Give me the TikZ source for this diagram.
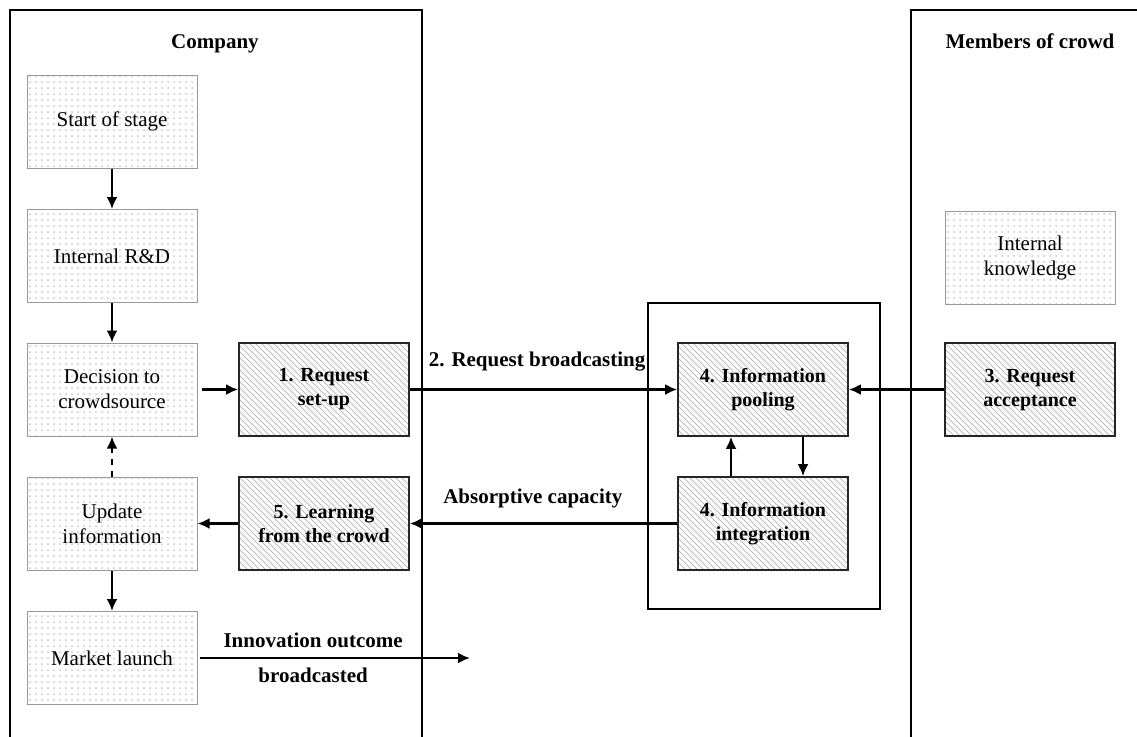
\documentclass[tikz,border=0pt]{standalone}
\usepackage{fontspec}
\setmainfont{Liberation Serif}
\usetikzlibrary{arrows.meta,patterns}

\tikzset{
  stagebox/.style={draw=gray!80, line width=0.5pt, pattern=dots, pattern color=gray!45,
    minimum width=85pt, minimum height=46.5pt, align=center, inner sep=2pt},
  crowdbox/.style={draw=black!85, line width=0.8pt, pattern=north west lines, pattern color=gray!50,
    minimum width=85pt, minimum height=46.5pt, align=center, font=\bfseries, inner sep=2pt},
  flow/.style={->, line width=1.25pt},
  frame/.style={line width=0.6pt},
  flowlabel/.style={font=\fontsize{10.5}{12.5}\selectfont\bfseries},
}

\begin{document}
\begin{tikzpicture}[x=0.5pt,y=-0.5pt,>={Latex[length=6pt,width=5.5pt]},
  every node/.append style={font=\fontsize{10.5}{12.5}\selectfont}]

    % Page extent
    \clip (0,0) rectangle (1137,736);

    % Frames of the two actors
    \draw[frame] (10,745) |- (422,10) -- (422,745);
    \draw[frame] (911,745) |- (1150,10);
    \node[flowlabel,anchor=base] (company) at (215,48) {Company};
    \node[flowlabel,anchor=base] (members) at (1030,48) {Members of crowd};

    % Company stages
    \node[stagebox] (start)  at (112,121.5) {Start of stage};
    \node[stagebox] (rnd)    at (112,256)   {Internal R\&D};
    \node[stagebox] (decide) at (112,389.5) {Decision to\\crowdsource};
    \node[stagebox] (update) at (112,523.5) {Update\\information};
    \node[stagebox] (launch) at (112,658)   {Market launch};

    % Crowdsourcing steps
    \node[crowdbox] (setup)       at (324,389.5) {1. Request\\set-up};
    \node[crowdbox] (learning)    at (324,523.5) {5. Learning\\from the crowd};
    \node[crowdbox] (pooling)     at (763,389.5) {4. Information\\pooling};
    \node[crowdbox] (integration) at (763,523.5) {4. Information\\integration};
    \node[crowdbox] (acceptance)  at (1030,389.5) {3. Request\\acceptance};
    \node[stagebox] (knowledge)   at (1030,257.5) {Internal\\knowledge};

    % Frame round step 4
    \draw[frame] (648,303) rectangle (880,609);

    % Connectors
    \draw[flow] (start) -- (rnd);
    \draw[flow] (rnd) -- (decide);
    \draw[flow] ([xshift=2pt]decide.east) -- (setup);
    \draw[flow,dashed] (update) -- (decide);
    \draw[flow] (update) -- (launch);
    \draw[flow] (setup) -- node[pos=0.476,above=5pt,flowlabel] {2. Request broadcasting} (pooling);
    \draw[flow] (acceptance) -- (pooling);
    \draw[flow] ([xshift=20pt]pooling.south) -- ([xshift=20pt]integration.north);
    \draw[flow] ([xshift=-16pt]integration.north) -- ([xshift=-16pt]pooling.south);
    \draw[flow] (integration) -- node[pos=0.54,above=4pt,flowlabel] {Absorptive capacity} (learning);
    \draw[flow] (learning) -- (update);

    \coordinate (outcome) at (470,658);
    \draw[flow] ([xshift=1pt]launch.east) -- node[pos=0.42,above=1pt,flowlabel] {Innovation outcome}
      node[pos=0.42,below=1pt,flowlabel] {broadcasted} (outcome);

\end{tikzpicture}
\end{document}
